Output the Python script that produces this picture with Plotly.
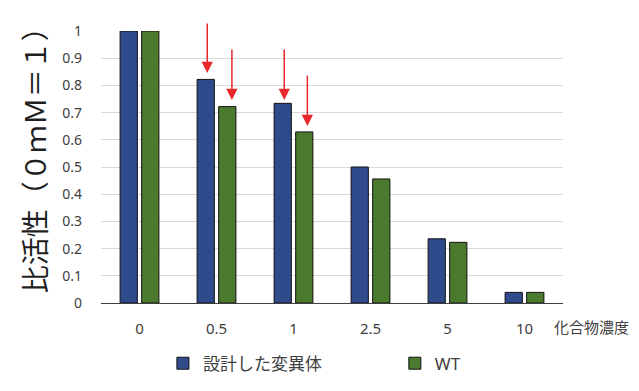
import plotly.graph_objects as go

categories = ["0", "0.5", "1", "2.5", "5", "10"]
mutant = [1.0, 0.822, 0.734, 0.50, 0.236, 0.039]
wt = [1.0, 0.722, 0.629, 0.456, 0.223, 0.039]
series_names = ["設計した変異体", "WT"]
y_ticks = [0, 0.1, 0.2, 0.3, 0.4, 0.5, 0.6, 0.7, 0.8, 0.9, 1]
y_tick_labels = ["0", "0.1", "0.2", "0.3", "0.4", "0.5", "0.6", "0.7", "0.8", "0.9", "1"]

# arrows: (category index, horizontal offset in category units, tip value, tail value)
arrow_cat = [1, 1, 2, 2]
arrow_off = [-0.12, 0.2, -0.12, 0.18]
arrow_tip = [0.846, 0.746, 0.746, 0.651]
arrow_tail = [1.033, 0.9375, 0.9375, 0.842]

BLUE = "#2f4b8c"
GREEN = "#4b7a2f"
FONT = "Noto Sans, Noto Sans CJK JP, sans-serif"

fig = go.Figure()
fig.add_trace(go.Bar(x=categories, y=mutant, name=series_names[0], legend="legend",
                     marker=dict(color=BLUE, line=dict(color="#111111", width=1))))
fig.add_trace(go.Bar(x=categories, y=wt, name=series_names[1], legend="legend2",
                     marker=dict(color=GREEN, line=dict(color="#111111", width=1))))

for c, o, t, a in zip(arrow_cat, arrow_off, arrow_tip, arrow_tail):
    fig.add_annotation(x=c + o, y=t, ax=c + o, ay=a, xref="x", yref="y",
                       axref="x", ayref="y", text="", showarrow=True,
                       arrowhead=2, arrowsize=1.5, arrowwidth=1.5,
                       arrowcolor="#e8282a", standoff=0)

fig.add_annotation(text="化合物濃度", xref="paper", yref="paper", x=0.976, y=-0.088,
                   xanchor="left", yanchor="middle", showarrow=False,
                   font=dict(family=FONT, size=15, color="#404040"))
fig.add_annotation(text="比活性（０ｍＭ＝１）", xref="paper", yref="paper", x=-0.143, y=0.55,
                   xanchor="center", yanchor="middle", textangle=-90, showarrow=False,
                   font=dict(family=FONT, size=28, color="#1f1f1f"))

leg_common = dict(orientation="h", yanchor="middle", xanchor="left", y=-0.223,
                  font=dict(family=FONT, size=17, color="#404040"),
                  bgcolor="rgba(0,0,0,0)", tracegroupgap=0)
fig.update_layout(
    width=639, height=391,
    margin=dict(l=101, r=76, t=31, b=88, autoexpand=False),
    paper_bgcolor="white", plot_bgcolor="white",
    bargap=0.44, bargroupgap=0.2, barmode="group",
    font=dict(family=FONT, size=14, color="#404040"),
    showlegend=True,
    legend=dict(x=0.134, **leg_common),
    legend2=dict(x=0.636, **leg_common),
)
fig.update_xaxes(type="category", showline=True, linecolor="#404040", linewidth=1,
                 ticks="", ticklabelstandoff=12, showgrid=False, automargin=False,
                 tickfont=dict(size=15))
fig.update_yaxes(range=[0, 1.0], tickvals=y_ticks, ticktext=y_tick_labels,
                 showgrid=True, gridcolor="#d9d9d9", gridwidth=1, zeroline=False,
                 showline=False, ticks="", ticklabelstandoff=18, automargin=False,
                 tickfont=dict(size=14))

fig.write_html("out.html")
